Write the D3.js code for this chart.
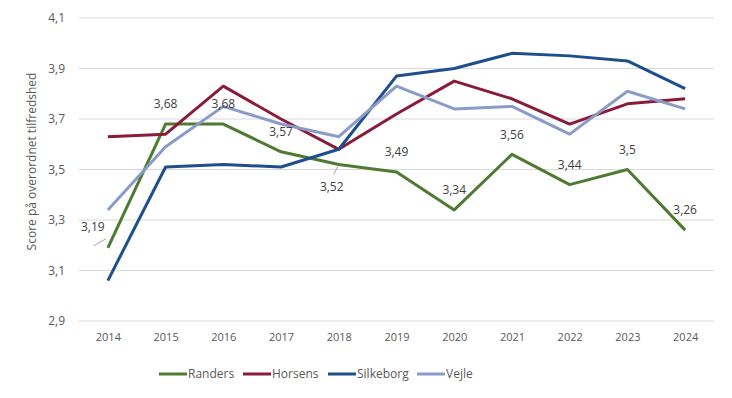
<!DOCTYPE html>
<html><head><meta charset="utf-8">
<script src="https://cdn.jsdelivr.net/npm/d3@7"></script>
<style>
body{margin:0;background:#fff;}
text{font-family:"Open Sans","Noto Sans",sans-serif;}
</style></head>
<body><svg id="c" width="732" height="398"></svg>
<script>
const years = ["2014","2015","2016","2017","2018","2019","2020","2021","2022","2023","2024"];
const randers   = [3.19,3.68,3.68,3.57,3.52,3.49,3.34,3.56,3.44,3.5,3.26];
const horsens   = [3.63,3.64,3.83,3.70,3.58,3.72,3.85,3.78,3.68,3.76,3.78];
const silkeborg = [3.06,3.51,3.52,3.51,3.58,3.87,3.90,3.96,3.95,3.93,3.82];
const vejle     = [3.34,3.59,3.75,3.68,3.63,3.83,3.74,3.75,3.64,3.81,3.74];
const seriesNames = ["Randers","Horsens","Silkeborg","Vejle"];
const yTicks = [2.9,3.1,3.3,3.5,3.7,3.9,4.1];
const yTitle = "Score på overordnet tilfredshed";

const colors = ["#4f7a31","#8a1b3a","#1f4e8c","#8a9bca"];
const seriesData = [randers, horsens, silkeborg, vejle];

const svg = d3.select("#c");
const mLeft = 79, mRight = 714, mTop = 18, mBottom = 321;
const x = d3.scalePoint().domain(years).range([mLeft, mRight]).padding(0.5);
const y = d3.scaleLinear().domain([2.9, 4.1]).range([mBottom, mTop]);
const fmt = v => String(v).replace(".", ",");

// gridlines
svg.append("g").selectAll("line").data(yTicks).join("line")
  .attr("x1", mLeft).attr("x2", mRight)
  .attr("y1", d => y(d)).attr("y2", d => y(d))
  .attr("stroke", "#d9d9d9").attr("stroke-width", 1);

// y axis
const yAxis = svg.append("g").attr("transform", `translate(${mLeft},0)`)
  .call(d3.axisLeft(y).tickValues(yTicks).tickFormat(d => fmt(d3.format(".1f")(d))).tickSize(0).tickPadding(14));
yAxis.select(".domain").remove();
yAxis.selectAll("text").attr("font-size", 12).attr("fill", "#595959")
  .attr("font-family", "'Open Sans','Noto Sans',sans-serif");

// x axis
const xAxis = svg.append("g").attr("transform", `translate(0,${mBottom})`)
  .call(d3.axisBottom(x).tickSize(0).tickPadding(12));
xAxis.select(".domain").remove();
xAxis.selectAll("text").attr("font-size", 11).attr("fill", "#595959")
  .attr("font-family", "'Open Sans','Noto Sans',sans-serif");

// y title
svg.append("text")
  .attr("transform", `translate(36,${(mTop+mBottom)/2 - 8}) rotate(-90)`)
  .attr("text-anchor", "middle").attr("font-size", 12).attr("fill", "#595959")
  .text(yTitle);

// lines
const line = d3.line().x((d, i) => x(years[i])).y(d => y(d));
seriesData.forEach((s, k) => {
  svg.append("path").datum(s).attr("d", line)
    .attr("fill", "none").attr("stroke", colors[k]).attr("stroke-width", 3)
    .attr("stroke-linejoin", "round");
});

// data labels for Randers
const labelOffsets = {0: [-15, -21], 4: [-7, 22]};
const leaders = {0: [[-2, -9], [-14, -2]], 4: [[-1, 2], [-5, 10]]};
randers.forEach((v, i) => {
  const px = x(years[i]), py = y(v);
  const off = labelOffsets[i] || [0, -20];
  if (leaders[i]) {
    const [a, b] = leaders[i];
    svg.append("line")
      .attr("x1", px + a[0]).attr("y1", py + a[1])
      .attr("x2", px + b[0]).attr("y2", py + b[1])
      .attr("stroke", "#a6a6a6").attr("stroke-width", 1);
  }
  svg.append("text")
    .attr("x", px + off[0]).attr("y", py + off[1])
    .attr("dy", "0.35em").attr("text-anchor", "middle")
    .attr("font-size", 12).attr("fill", "#404040")
    .text(fmt(v));
});

// legend
const legendX = [159, 243, 328, 417];
const lg = svg.append("g");
seriesNames.forEach((n, k) => {
  lg.append("line").attr("x1", legendX[k]).attr("x2", legendX[k] + 28)
    .attr("y1", 374).attr("y2", 374)
    .attr("stroke", colors[k]).attr("stroke-width", 3);
  lg.append("text").attr("x", legendX[k] + 29).attr("y", 374).attr("dy", "0.35em")
    .attr("font-size", 12).attr("fill", "#595959").text(n);
});
</script></body></html>
